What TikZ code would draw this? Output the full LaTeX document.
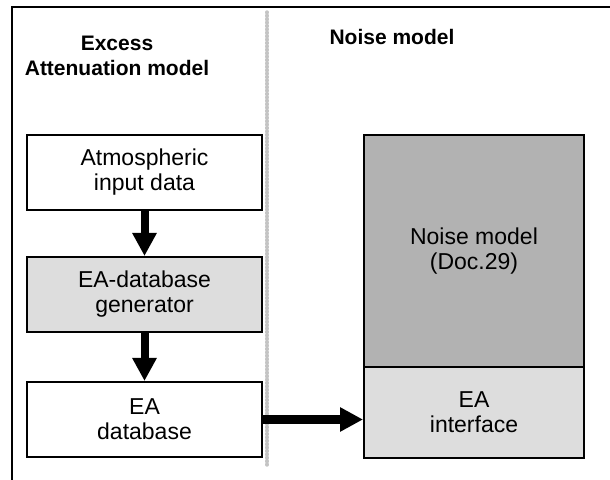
\documentclass[tikz,border=0pt]{standalone}
\usepackage{fontspec}
\setmainfont{Liberation Sans}
\usetikzlibrary{arrows.meta}
\definecolor{darkfill}{HTML}{B2B2B2}
\definecolor{lightfill}{HTML}{DDDDDD}
\definecolor{dotgray}{HTML}{C4C4C4}

\begin{document}
\begin{tikzpicture}[x=0.5pt, y=-0.5pt,
    blockbox/.style={draw=black, line width=1pt, inner sep=0pt, minimum width=117.5pt, minimum height=37.5pt, align=center, font=\fontsize{11.5}{12.5}\selectfont},
    headtext/.style={align=center, inner sep=0pt, font=\fontsize{10.5}{12.5}\selectfont\bfseries},
    bigarrow/.style={line width=4pt, -{Triangle[length=11.5pt, width=11.5pt]}}]

      \useasboundingbox (0, 0) rectangle (610, 480);

      % frame and divider
      \draw[line width=1.3pt] (12, 480) -- (12, 7) -- (610, 7);
      \draw[dotgray, line width=1.7pt, line cap=round, dash pattern=on 0.4pt off 1.3pt] (267, 12) -- (267, 467);

      \node[headtext] (eahead) at (117, 56) {Excess\\Attenuation model};
      \node[headtext, anchor=base] (noisehead) at (392, 45) {Noise model};

      \node[blockbox] (atm) at (144.5, 172.5) {Atmospheric\\input data};
      \node[blockbox, fill=lightfill] (gen) at (144.5, 294.5) {EA-database\\generator};
      \node[blockbox] (eadb) at (144.5, 419.5) {EA\\database};

      \node[blockbox, fill=darkfill, minimum width=110pt, minimum height=116pt] (noise) at (474, 251) {Noise model\\(Doc.29)};
      \node[blockbox, fill=lightfill, minimum width=110pt, minimum height=45.5pt] (eaif) at (474, 412.5) {EA\\interface};

      \draw[bigarrow] (atm.south) -- (gen.north);
      \draw[bigarrow] (gen.south) -- (eadb.north);
      \draw[bigarrow, line width=4.5pt] (eadb.east) -- (eadb.east -| eaif.west);

    \end{tikzpicture}
\end{document}
